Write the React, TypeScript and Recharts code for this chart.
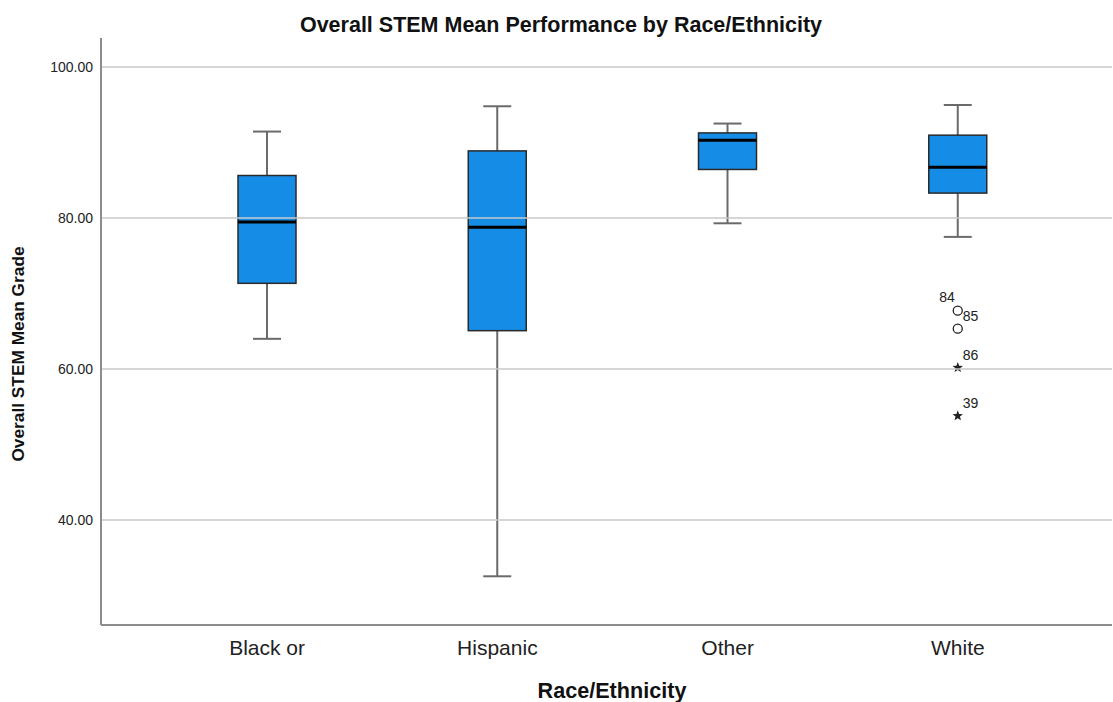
import React from 'react';
import { ComposedChart, Bar, XAxis, YAxis, ReferenceLine } from 'recharts';

const categories = ['Black or', 'Hispanic', 'Other', 'White'];
const whiskerLow = [64.0, 32.55, 79.3, 77.5];
const q1 = [71.35, 65.08, 86.43, 83.3];
const median = [79.46, 78.76, 90.3, 86.73];
const q3 = [85.63, 88.89, 91.27, 90.97];
const whiskerHigh = [91.45, 94.8, 92.51, 94.97];

const outlierGroup = ['White', 'White', 'White', 'White'];
const outlierCase = ['84', '85', '86', '39'];
const outlierValue = [67.73, 65.34, 60.19, 53.8];
const outlierKind = ['circle', 'circle', 'star', 'star'];

const yTicks = [40, 60, 80, 100];

const FONT = '"Liberation Sans", Arial, sans-serif';
const BOX_FILL = '#158ce6';

const data = categories.map((cat, i) => ({
  cat,
  range: [whiskerLow[i], whiskerHigh[i]],
  q1: q1[i],
  median: median[i],
  q3: q3[i],
  outliers: outlierGroup
    .map((g, j) => ({ g, id: outlierCase[j], value: outlierValue[j], kind: outlierKind[j] }))
    .filter((o) => o.g === cat),
}));

function starPath(cx: number, cy: number, r: number) {
  const pts: string[] = [];
  for (let i = 0; i < 10; i++) {
    const rad = i % 2 === 0 ? r : r * 0.42;
    const a = -Math.PI / 2 + (i * Math.PI) / 5;
    pts.push(`${cx + rad * Math.cos(a)},${cy + rad * Math.sin(a)}`);
  }
  return `M${pts.join('L')}Z`;
}

const BoxShape = (props: any) => {
  const { x, y, width, height, payload } = props;
  const [lo, hi] = payload.range;
  const k = height / (hi - lo);
  const py = (v: number) => y + (hi - v) * k;
  const cx = x + width / 2;
  const cap = 14;
  const whisker = '#6a6a6a';

  return (
    <g>
      <line x1={cx} x2={cx} y1={py(hi)} y2={py(payload.q3)} stroke={whisker} strokeWidth={2} />
      <line x1={cx} x2={cx} y1={py(payload.q1)} y2={py(lo)} stroke={whisker} strokeWidth={2} />
      <line x1={cx - cap} x2={cx + cap} y1={py(hi)} y2={py(hi)} stroke={whisker} strokeWidth={2} />
      <line x1={cx - cap} x2={cx + cap} y1={py(lo)} y2={py(lo)} stroke={whisker} strokeWidth={2} />
      <rect
        x={x}
        y={py(payload.q3)}
        width={width}
        height={py(payload.q1) - py(payload.q3)}
        fill={BOX_FILL}
        stroke="#2a2a2a"
        strokeWidth={1.5}
      />
      <line x1={x} x2={x + width} y1={py(payload.median)} y2={py(payload.median)} stroke="#000" strokeWidth={3} />
      {payload.outliers.map((o: any, j: number) => {
        const oy = py(o.value);
        const leftLabel = j === 0;
        return (
          <g key={o.id}>
            {o.kind === 'circle' ? (
              <circle cx={cx} cy={oy} r={4.5} fill="#fff" stroke="#222" strokeWidth={1.3} />
            ) : (
              <path d={starPath(cx, oy, 5.5)} fill="#222" />
            )}
            <text
              x={leftLabel ? cx - 3 : cx + 5}
              y={oy - (leftLabel ? 14 : 13)}
              textAnchor={leftLabel ? 'end' : 'start'}
              dominantBaseline="central"
              fontSize={14}
              fontFamily={FONT}
              fill="#222"
            >
              {o.id}
            </text>
          </g>
        );
      })}
    </g>
  );
};

export default function App() {
  return (
    <div style={{ position: 'absolute', left: 0, top: 0, width: 1113, height: 702, background: '#fff', fontFamily: FONT }}>
      <ComposedChart width={1113} height={702} data={data} margin={{ top: 38, right: 1, left: 0, bottom: 0 }}>
        <XAxis
          dataKey="cat"
          height={77}
          padding={{ left: 51, right: 39 }}
          axisLine={{ stroke: '#8c8c8c', strokeWidth: 2 }}
          tickLine={false}
          tickMargin={9}
          tick={{ fontSize: 21, fill: '#222', fontFamily: FONT }}
        />
        <YAxis
          type="number"
          width={101}
          domain={[26.1, 103.84]}
          ticks={yTicks}
          allowDataOverflow
          tickFormatter={(v: number) => v.toFixed(2)}
          axisLine={{ stroke: '#8c8c8c', strokeWidth: 2 }}
          tickLine={false}
          tick={{ fontSize: 14, fill: '#222', fontFamily: FONT }}
        />
        {yTicks.map((t) => (
          <ReferenceLine key={t} y={t} stroke="#c8c8c8" strokeWidth={1.5} />
        ))}
        <Bar dataKey="range" barSize={58} shape={BoxShape} isAnimationActive={false} />
      </ComposedChart>
      <div
        style={{
          position: 'absolute',
          left: 561,
          top: 25,
          transform: 'translate(-50%, -50%)',
          whiteSpace: 'nowrap',
          fontWeight: 'bold',
          fontSize: 21.5,
          color: '#111',
        }}
      >
        Overall STEM Mean Performance by Race/Ethnicity
      </div>
      <div
        style={{
          position: 'absolute',
          left: 18,
          top: 354,
          transform: 'translate(-50%, -50%) rotate(-90deg)',
          whiteSpace: 'nowrap',
          fontWeight: 'bold',
          fontSize: 17.3,
          color: '#111',
        }}
      >
        Overall STEM Mean Grade
      </div>
      <div
        style={{
          position: 'absolute',
          left: 612,
          top: 691,
          transform: 'translate(-50%, -50%)',
          whiteSpace: 'nowrap',
          fontWeight: 'bold',
          fontSize: 21.6,
          color: '#111',
        }}
      >
        Race/Ethnicity
      </div>
    </div>
  );
}
